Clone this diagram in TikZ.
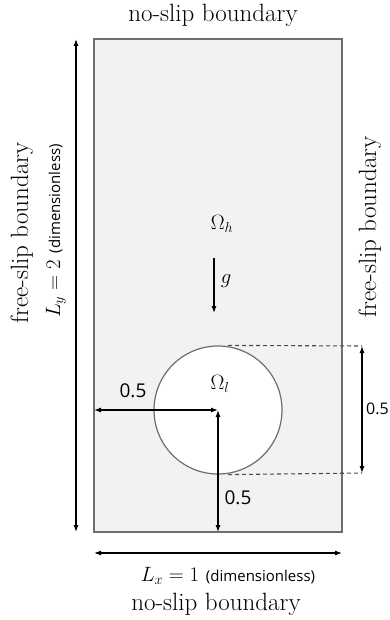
\documentclass[tikz,border=0pt]{standalone}
\usepackage{fontspec}
\newfontfamily\uisans{Open Sans}
\usetikzlibrary{arrows.meta}
\definecolor{domaingray}{HTML}{F2F2F2}
\definecolor{edgegray}{HTML}{6E6E6E}
\tikzset{
  dim/.style={line width = 1.1pt, {Latex[length=7pt,width=5pt]}-{Latex[length=7pt,width=5pt]}},
  onearrow/.style={line width = 1.1pt, -{Latex[length=7pt,width=5pt]}},
  guide/.style={black!70, line width = 1.1pt, dash pattern=on 4pt off 3pt},
  bcname/.style={font=\fontsize{25}{30}\selectfont},
  numlabel/.style={font=\uisans\fontsize{19}{23}\selectfont},
  mathlabel/.style={font=\fontsize{22.5}{27}\selectfont}
}
\newcommand{\dimless}{{\uisans\fontsize{15}{18}\selectfont (dimensionless)}}

\begin{document}
\begin{tikzpicture}[x=1pt, y=-1pt]
\useasboundingbox (0,0) rectangle (389,620);

% domain
\coordinate (sw) at (94,532);
\coordinate (ne) at (342,39);
\draw[edgegray, line width = 1.5pt, fill = domaingray] (sw) rectangle (ne);
\node[circle, draw = edgegray, fill = white, line width = 1.2pt,
      minimum size = 128pt, inner sep = 0pt] (drop) at (218,410) {};

% labels inside
\node[mathlabel] (omh) at (222,224) {$\Omega_h$};
\coordinate (gtop) at (214,258);
\coordinate (gbot) at (214,313);
\draw[onearrow] (gtop) -- (gbot);
\node[mathlabel] (glab) at (226,281) {$g$};
\node[mathlabel] (oml) at (220,384) {$\Omega_l$};

% drop position
\draw[dim] (drop.center) -- (drop.center -| sw);
\draw[dim] (drop.center) -- (drop.center |- sw);
\node[numlabel] (xpos) at (133,391) {0.5};
\node[numlabel] (ypos) at (238,498) {0.5};

% drop diameter
\coordinate (dtop) at (362,346);
\coordinate (dbot) at (362,473);
\draw[guide] ([xshift=10pt]drop.north) -- (dtop);
\draw[guide] ([xshift=10pt]drop.south) -- (dbot);
\draw[dim] (dtop) -- (dbot);
\node[numlabel, anchor = west, inner sep = 1pt, font=\uisans\fontsize{16}{19}\selectfont] (diam) at (365,409) {0.5};

% domain size
\coordinate (ly0) at (76,532);
\coordinate (ly1) at (76,39);
\draw[dim] (ly0) -- (ly1);
\coordinate (lx0) at (94,553);
\coordinate (lx1) at (342,553);
\draw[dim] (lx0) -- (lx1);
\node[mathlabel] (lx) at (228,576) {$L_x = 1$ \dimless};
\node[mathlabel, rotate = 90] (ly) at (56,231) {$L_y = 2$ \dimless};

% boundary conditions
\node[bcname] (top) at (213,15) {no-slip boundary};
\node[bcname] (bottom) at (216,604) {no-slip boundary};
\node[bcname, rotate = 90] (left) at (22,233) {free-slip boundary};
\node[bcname, rotate = 90] (right) at (370,227) {free-slip boundary};

\end{tikzpicture}
\end{document}
